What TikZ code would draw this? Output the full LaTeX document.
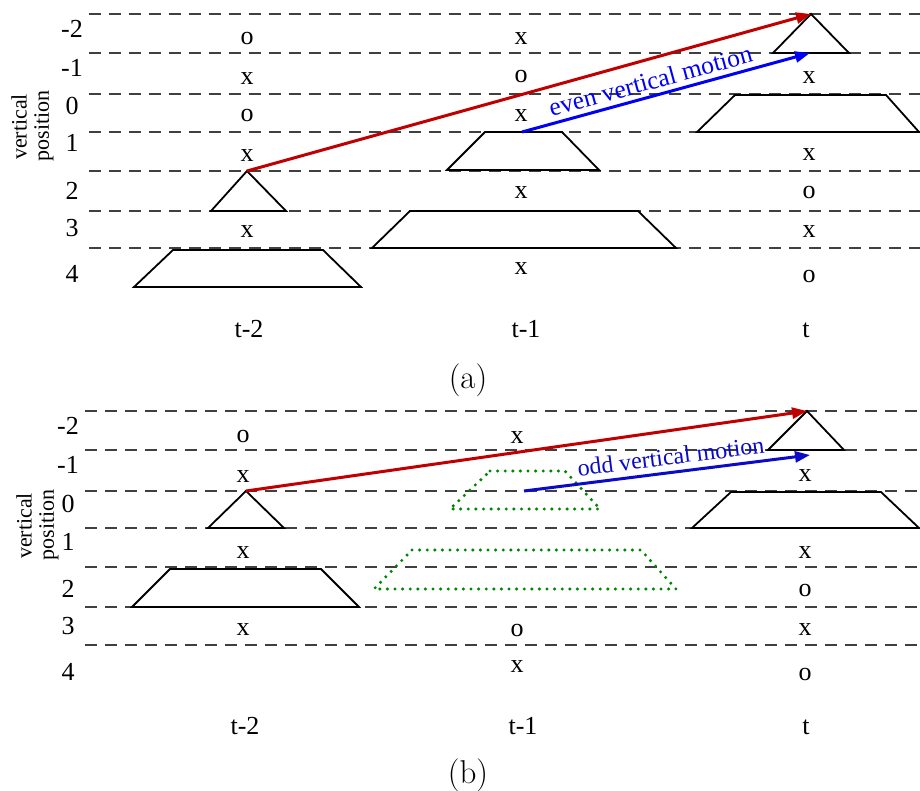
\documentclass[tikz,border=0pt]{standalone}
\usepackage{fontspec}
\setmainfont{Liberation Serif}
\newfontfamily\capfont{Latin Modern Roman}
\usetikzlibrary{arrows.meta}
\definecolor{darkred}{RGB}{192,0,0}
\definecolor{brightblue}{RGB}{0,0,245}
\definecolor{navyblue}{RGB}{10,10,200}
\definecolor{dotgreen}{RGB}{0,135,0}
\begin{document}
\begin{tikzpicture}[x=1pt,y=-1pt,
  gridline/.style={black!75, line width=1.1pt, dash pattern=on 12pt off 8pt},
  blockshape/.style={black, line width=1.8pt, line join=miter},
  ghost/.style={dotgreen, line width=3.4pt, line cap=round, dash pattern=on 0pt off 7.6pt},
  sym/.style={font=\fontsize{26}{26}\selectfont, anchor=base, inner sep=0pt},
  rowlab/.style={font=\fontsize{26}{26}\selectfont, anchor=base, inner sep=0pt},
  axislab/.style={rotate=90, inner sep=0pt, font=\fontsize{22}{22}\selectfont},
  motion/.style={line width=3pt, -{Triangle[length=15pt,width=11pt]}},
  capt/.style={font=\capfont\fontsize{33}{33}\selectfont, inner sep=0pt}]
\useasboundingbox (0,0) rectangle (920,791);

% ================= panel (a) =================
\foreach \y in {14,53,94,132,171,211,248}
  \draw[gridline] (89,\y) -- (920,\y);
\foreach \l/\y in {-2/38,-1/77,0/115,1/152,2/200,3/237,4/283}
  \node[rowlab] (alab\y) at (72,\y) {\l};
\node[axislab] (avert) at (19,127) {vertical};
\node[axislab] (apos) at (44,126) {position};
% column t-2
\foreach \s/\y in {o/45,x/85,o/122,x/162,x/238}
  \node[sym] (aA\y) at (247,\y) {\s};
\coordinate (aTriA) at (247,171);
\draw[blockshape] (aTriA) -- (286,211) -- (211,211) -- cycle;
\draw[blockshape] (173,250) -- (323,250) -- (361,287) -- (134,287) -- cycle;
% column t-1
\foreach \s/\y in {x/45,o/83,x/122,x/199,x/275}
  \node[sym] (aB\y) at (521,\y) {\s};
\coordinate (aTrapB) at (522,132);
\draw[blockshape] (485,132) -- (562,132) -- (599,170) -- (447,170) -- cycle;
\draw[blockshape] (410,211) -- (638,211) -- (676,248) -- (372,248) -- cycle;
% column t
\foreach \s/\y in {x/84,x/161,o/199,x/238,o/283}
  \node[sym] (aC\y) at (809,\y) {\s};
\coordinate (aTriC) at (811,14);
\coordinate (aTriCbase) at (810,53);
\draw[blockshape] (aTriC) -- (849,53) -- (773,53) -- cycle;
\draw[blockshape] (735,95) -- (886,95) -- (919,132) -- (697,132) -- cycle;
% motions
\draw[motion, darkred] (aTriA) -- (aTriC);
\draw[motion, brightblue] (aTrapB) -- node[sloped, above, pos=0.46, inner sep=5pt,
  font=\fontsize{25.5}{25.5}\selectfont] (aeven) {even vertical motion} (aTriCbase);
% time labels
\node[sym] (at2) at (249,337) {t-2};
\node[sym] (at1) at (526,337) {t-1};
\node[sym] (at0) at (806,337) {t};
\node[capt] (acap) at (468,380) {(a)};

% ================= panel (b) =================
\foreach \y in {411,450,491,528,567,607,645}
  \draw[gridline] (85,\y) -- (920,\y);
\foreach \l/\y in {-2/434,-1/473,0/512,1/550,2/597,3/634,4/680}
  \node[rowlab] (blab\y) at (68,\y) {\l};
\node[axislab] (bvert) at (24,526) {vertical};
\node[axislab] (bpos) at (49,525) {position};
% column t-2
\foreach \s/\y in {o/442,x/482,x/558,x/635}
  \node[sym] (bA\y) at (243,\y) {\s};
\coordinate (bTriA) at (246,491);
\draw[blockshape] (bTriA) -- (284,528) -- (208,528) -- cycle;
\draw[blockshape] (170,569) -- (321,569) -- (359,607) -- (132,607) -- cycle;
% column t-1
\foreach \s/\y in {x/443,o/636,x/672}
  \node[sym] (bB\y) at (517,\y) {\s};
\draw[ghost] (490,471) -- (565,471) -- (600,509) -- (450,509) -- cycle;
\draw[ghost] (412,550) -- (641,550) -- (676,589) -- (374,589) -- cycle;
\coordinate (bStart) at (524,491);
% column t
\foreach \s/\y in {x/481,x/558,o/596,x/635,o/680}
  \node[sym] (bC\y) at (805,\y) {\s};
\coordinate (bTriC) at (807,411);
\coordinate (bEnd) at (810,455);
\draw[blockshape] (bTriC) -- (844,450) -- (768,450) -- cycle;
\draw[blockshape] (731,492) -- (881,492) -- (919,528) -- (692,528) -- cycle;
% motions
\draw[motion, darkred] (bTriA) -- (bTriC);
\draw[motion, navyblue] (bStart) -- node[sloped, above, pos=0.52, inner sep=6pt,
  font=\fontsize{24}{24}\selectfont] (bodd) {odd vertical motion} (bEnd);
% time labels
\node[sym] (bt2) at (245,734) {t-2};
\node[sym] (bt1) at (523,734) {t-1};
\node[sym] (bt0) at (806,734) {t};
\node[capt] (bcap) at (468,775) {(b)};
\end{tikzpicture}
\end{document}
